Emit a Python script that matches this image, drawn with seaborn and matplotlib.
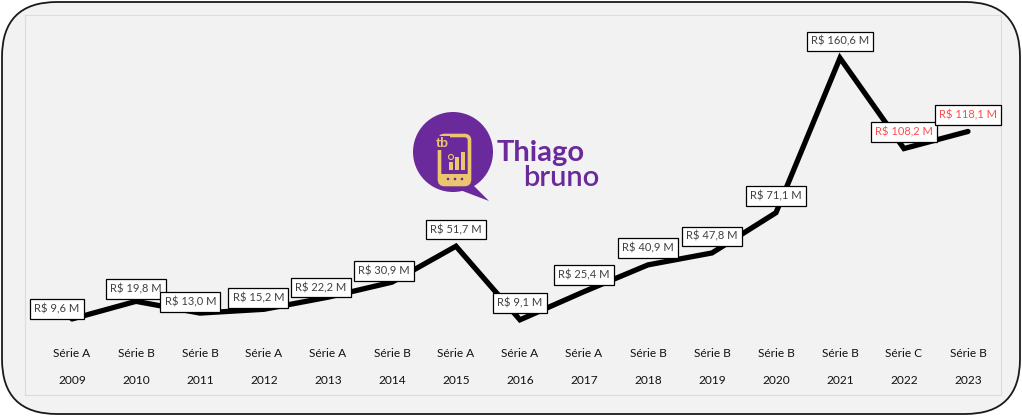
import matplotlib
matplotlib.use("Agg")
import matplotlib.pyplot as plt
import seaborn as sns
import pandas as pd
from matplotlib.patches import FancyBboxPatch, Circle, Polygon, Rectangle

sns.set_style("white")
plt.rcParams['font.family'] = ['Lato', 'DejaVu Sans']

# Data
years = ["2009", "2010", "2011", "2012", "2013", "2014", "2015", "2016",
         "2017", "2018", "2019", "2020", "2021", "2022", "2023"]
divisions = ["Série A", "Série B", "Série B", "Série A", "Série A", "Série B", "Série A", "Série A",
             "Série A", "Série B", "Série B", "Série B", "Série B", "Série C", "Série B"]
revenue = [9.6, 19.8, 13.0, 15.2, 22.2, 30.9, 51.7, 9.1,
           25.4, 40.9, 47.8, 71.1, 160.6, 108.2, 118.1]
highlight = ["2022", "2023"]

df = pd.DataFrame({"pos": range(len(years)), "year": years, "division": divisions, "revenue": revenue})

W, H = 1022, 416
fig = plt.figure(figsize=(W / 100, H / 100), dpi=100)
fig.patch.set_facecolor("white")

# background frame (pixel coords)
bg = fig.add_axes([0, 0, 1, 1], zorder=0)
bg.set_xlim(0, W)
bg.set_ylim(H, 0)
bg.axis("off")
bg.add_patch(FancyBboxPatch((2 + 55, 2 + 55), W - 4 - 110, H - 4 - 110,
                            boxstyle="round,pad=55", facecolor="#f2f2f2",
                            edgecolor="#1a1a1a", linewidth=1.3))

# main chart
ax = fig.add_axes([25 / W, (H - 395) / H, 976 / W, 380 / H], zorder=1)
ax.set_facecolor("#f2f2f2")
for s in ax.spines.values():
    s.set_color("#dcdcdc")
    s.set_linewidth(0.8)

sns.lineplot(data=df, x="pos", y="revenue", ax=ax, color="black", linewidth=3.8,
             solid_joinstyle="miter", legend=False)
ax.set_xlim(-0.734, 14.516)
ax.set_ylim(-34.4, 185.5)
ax.set_xticks([])
ax.set_yticks([])
ax.set_xlabel("")
ax.set_ylabel("")

# label offsets in points (layout only)
offsets = {0: (-11, 7), 1: (0, 9), 2: (-7, 8), 3: (-4, 8), 4: (-5, 7), 5: (-6, 8)}
for i, (y, v) in enumerate(zip(years, revenue)):
    dx, dy = offsets.get(i, (0, 12))
    txt = f"R$ {v:.1f} M".replace(".", ",")
    col = "#ff4b4b" if y in highlight else "#404040"
    ax.annotate(txt, (i, v), xytext=(dx, dy), textcoords="offset points",
                ha="center", va="center", fontsize=8, color=col,
                bbox=dict(boxstyle="square,pad=0.38", facecolor="white",
                          edgecolor="black", linewidth=0.9), zorder=5)

tr = ax.get_xaxis_transform()
for i, (y, d) in enumerate(zip(years, divisions)):
    ax.text(i, 0.108, d, transform=tr, ha="center", va="center", fontsize=8.6, color="#111111")
    ax.text(i, 0.039, y, transform=tr, ha="center", va="center", fontsize=8.6, color="#111111")

# logo overlay
lg = fig.add_axes([0, 0, 1, 1], zorder=2)
lg.set_xlim(0, W)
lg.set_ylim(H, 0)
lg.axis("off")
purple = "#6a2a9c"
gold = "#ecc66e"
lg.add_patch(Circle((453, 152), 40, facecolor=purple, edgecolor="none"))
lg.add_patch(Polygon([[468, 180], [489, 201], [460, 190]], closed=True, facecolor=purple, edgecolor="none"))
lg.add_patch(FancyBboxPatch((441, 137), 27, 46, boxstyle="round,pad=1.5,rounding_size=5",
                            facecolor="none", edgecolor=gold, linewidth=2.6))
lg.add_patch(Rectangle((440, 174), 29, 9, facecolor=gold, edgecolor="none"))
for dx in (448, 455, 462):
    lg.add_patch(Circle((dx, 179), 1.3, facecolor=purple, edgecolor="none"))
lg.text(436, 143, "tb", fontsize=10, fontweight="bold", color=gold, ha="left", va="center",
        bbox=dict(boxstyle="square,pad=0.05", facecolor=purple, edgecolor="none"))
for bx, bh in [(451, 8), (457, 13), (463, 18)]:
    lg.add_patch(Rectangle((bx - 2, 170 - bh), 4, bh, facecolor=gold, edgecolor="none"))
lg.add_patch(Circle((451, 157), 2.5, facecolor="none", edgecolor=gold, linewidth=0.8))
lg.text(497, 153, "Thiago", fontsize=21, fontweight="bold", color=purple, ha="left", va="center")
lg.text(523, 178, "bruno", fontsize=21, fontweight="semibold", color=purple, ha="left", va="center")

fig.savefig("out.png", dpi=100, facecolor="white")
